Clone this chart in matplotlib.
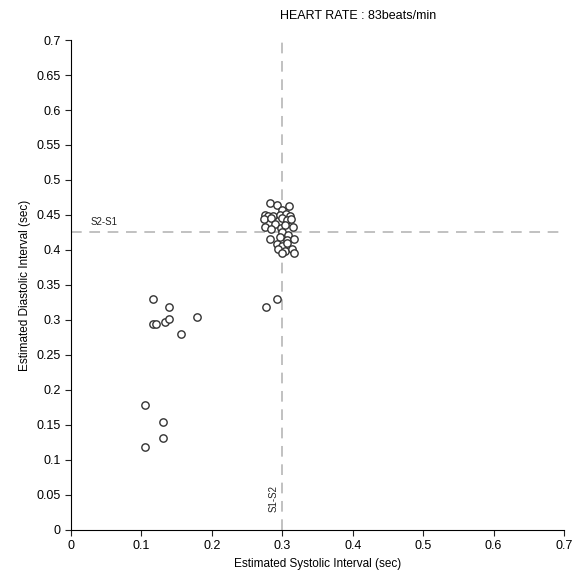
import matplotlib
matplotlib.use("Agg")
from matplotlib import pyplot as plt

plt.rcParams["font.family"] = ["Liberation Sans", "DejaVu Sans"]

# estimated systolic / diastolic intervals (sec)
SYSTOLIC = [
    0.282, 0.292, 0.310, 0.300, 0.276, 0.279, 0.287, 0.297, 0.305, 0.311,
    0.274, 0.284, 0.300, 0.307, 0.313, 0.276, 0.290, 0.298, 0.304, 0.315,
    0.284, 0.300, 0.308, 0.283, 0.297, 0.306, 0.316, 0.292, 0.300, 0.307,
    0.294, 0.304, 0.314, 0.300, 0.316,
    0.277, 0.293,
    0.116, 0.139, 0.117, 0.121, 0.133, 0.139, 0.156, 0.179,
    0.105, 0.131, 0.131, 0.105,
]
DIASTOLIC = [
    0.467, 0.464, 0.463, 0.457, 0.450, 0.448, 0.449, 0.450, 0.451, 0.449,
    0.444, 0.446, 0.445, 0.443, 0.444, 0.433, 0.437, 0.432, 0.436, 0.433,
    0.430, 0.425, 0.421, 0.416, 0.418, 0.414, 0.416, 0.408, 0.406, 0.410,
    0.401, 0.399, 0.402, 0.396, 0.395,
    0.319, 0.330,
    0.330, 0.319, 0.294, 0.294, 0.297, 0.301, 0.280, 0.304,
    0.179, 0.154, 0.131, 0.118,
]
S1S2 = 0.3
S2S1 = 0.425
HEART_RATE = 83
TICKS = [0, 0.05, 0.1, 0.15, 0.2, 0.25, 0.3, 0.35, 0.4, 0.45, 0.5, 0.55, 0.6, 0.65, 0.7]
XTICKS = [0, 0.1, 0.2, 0.3, 0.4, 0.5, 0.6, 0.7]

fig = plt.figure(figsize=(5.74, 5.84), dpi=100)
ax = fig.add_axes([0.1237, 0.0925, 0.859, 0.839])

ax.axvline(S1S2, color="#b0b0b0", lw=1.1, dashes=(7, 5), zorder=1)
ax.axhline(S2S1, color="#b0b0b0", lw=1.1, dashes=(7, 5), zorder=1)

ax.scatter(SYSTOLIC, DIASTOLIC, s=28, facecolors="white", edgecolors="#333333",
           linewidths=1.0, zorder=3)

ax.text(0.028, S2S1 + 0.008, "S2-S1", fontsize=7, color="#222222", va="bottom")
ax.text(S1S2 - 0.005, 0.025, "S1-S2", fontsize=7, color="#222222", rotation=90,
        ha="right", va="bottom")

ax.set_xlim(0, 0.7)
ax.set_ylim(0, 0.7)
ax.set_xticks(XTICKS)
ax.set_yticks(TICKS)
ax.set_xticklabels([f"{t:g}" for t in XTICKS])
ax.set_yticklabels([f"{t:g}" for t in TICKS])
ax.tick_params(labelsize=9, length=4, color="#222222")
for side in ["top", "right"]:
    ax.spines[side].set_visible(False)

ax.set_xlabel("Estimated Systolic Interval (sec)", fontsize=8.5)
ax.set_ylabel("Estimated Diastolic Interval (sec)", fontsize=8.5)
fig.text(358 / 574, 1 - 16 / 584, f"HEART RATE : {HEART_RATE}beats/min",
         ha="center", va="center", fontsize=9)

fig.savefig("out.png", dpi=100)
